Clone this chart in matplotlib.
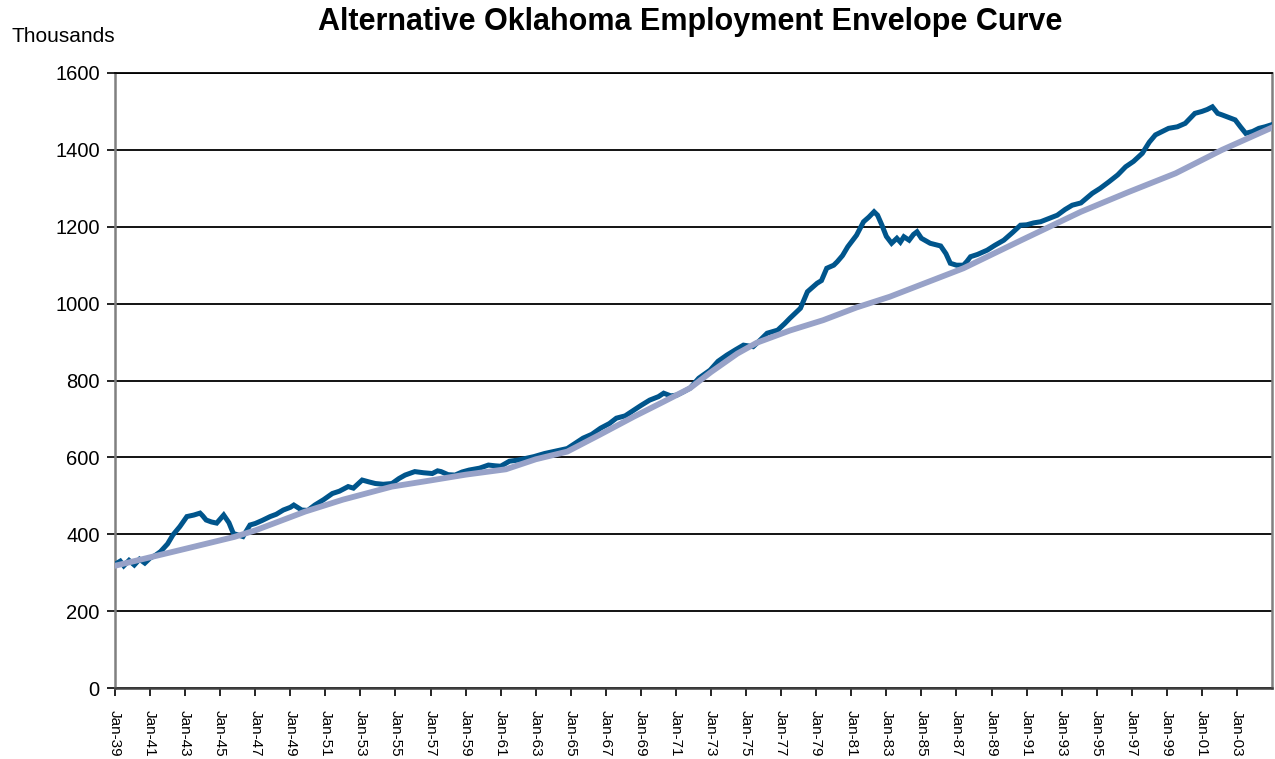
import matplotlib
matplotlib.use("Agg")
import matplotlib.pyplot as plt

# ---- data ----
emp_years = [1939.0, 1939.3, 1939.5, 1939.8, 1940.1, 1940.4, 1940.7, 1941.0, 1941.3, 1941.6,
             1942.0, 1942.3, 1942.7, 1943.1, 1943.5, 1943.85, 1944.0, 1944.2, 1944.5, 1944.8,
             1945.2, 1945.5, 1945.75, 1946.3, 1946.7, 1947.0, 1947.4, 1947.85, 1948.2, 1948.6,
             1949.0, 1949.2, 1949.65, 1950.0, 1950.4, 1950.9, 1951.4, 1951.8, 1952.3, 1952.6,
             1953.1, 1953.5, 1953.85, 1954.3, 1954.8, 1955.2, 1955.55, 1956.1, 1956.6, 1957.1,
             1957.4, 1957.6, 1958.0, 1958.4, 1958.8, 1959.2, 1959.8, 1960.3, 1960.7, 1961.0,
             1961.5, 1962.0, 1962.9, 1963.5, 1964.0, 1964.8, 1965.2, 1965.7, 1966.2, 1966.7,
             1967.2, 1967.6, 1968.1, 1968.6, 1969.0, 1969.5, 1970.0, 1970.3, 1970.7, 1971.05,
             1971.4, 1971.8, 1972.3, 1972.95, 1973.4, 1973.9, 1974.4, 1974.85, 1975.4, 1975.8,
             1976.2, 1976.8, 1977.2, 1977.5, 1978.1, 1978.5, 1979.05, 1979.3, 1979.6, 1980.0,
             1980.2, 1980.5, 1980.8, 1981.3, 1981.7, 1982.0, 1982.3, 1982.5, 1982.75, 1983.0,
             1983.3, 1983.6, 1983.8, 1984.0, 1984.3, 1984.55, 1984.75, 1985.0, 1985.5, 1986.1,
             1986.4, 1986.65, 1987.0, 1987.4, 1987.6, 1987.8, 1988.2, 1988.75, 1989.2, 1989.7,
             1990.2, 1990.65, 1991.0, 1991.4, 1991.8, 1992.3, 1992.75, 1993.2, 1993.6, 1994.1,
             1994.75, 1995.2, 1995.7, 1996.2, 1996.65, 1997.1, 1997.6, 1998.0, 1998.35, 1999.1,
             1999.6, 2000.05, 2000.6, 2001.0, 2001.3, 2001.6, 2001.9, 2002.15, 2002.5, 2002.9,
             2003.2, 2003.5, 2003.9, 2004.25, 2004.6, 2004.95]
emp_values = [322, 330, 318, 332, 320, 335, 325, 338, 345, 355,
              375, 398, 420, 446, 450, 455, 448, 437, 432, 429,
              450, 430, 402, 394, 424, 428, 436, 446, 452, 463,
              470, 476, 463, 462, 476, 490, 506, 512, 524, 520,
              541, 536, 532, 530, 532, 545, 554, 563, 560, 558,
              565, 563, 555, 554, 562, 567, 572, 580, 578, 577,
              590, 593, 602, 610, 615, 623, 635, 650, 660, 676,
              688, 702, 708, 723, 735, 749, 758, 767, 760, 762,
              770, 780, 806, 827, 850, 866, 880, 892, 888, 905,
              923, 931, 948, 962, 988, 1031, 1053, 1060, 1092, 1100,
              1109, 1125, 1148, 1178, 1213, 1225, 1239, 1230, 1204, 1175,
              1157, 1170, 1160, 1174, 1165, 1180, 1187, 1170, 1157, 1150,
              1130, 1105, 1100, 1100, 1110, 1122, 1128, 1139, 1152, 1165,
              1185, 1204, 1205, 1210, 1213, 1222, 1230, 1245, 1256, 1262,
              1287, 1300, 1317, 1335, 1356, 1370, 1391, 1420, 1439, 1456,
              1460, 1469, 1495, 1500, 1505, 1512, 1495, 1491, 1485, 1478,
              1460, 1443, 1448, 1456, 1460, 1465]

env_years = [1939.0, 1941.0, 1943.0, 1945.8, 1947.0, 1949.85, 1952.0, 1954.8, 1957.0, 1959.0,
             1961.3, 1963.0, 1964.8, 1966.7, 1968.6, 1970.3, 1971.8, 1973.0, 1974.5, 1975.6,
             1977.5, 1979.4, 1981.3, 1983.2, 1985.3, 1987.4, 1990.7, 1994.1, 1996.8, 1999.5,
             2002.15, 2004.95]
env_values = [318, 340, 362, 393, 410, 459, 490, 524, 540, 555,
              569, 595, 615, 660, 706, 745, 780, 822, 870, 898,
              930, 957, 990, 1018, 1055, 1092, 1165, 1239, 1290, 1339,
              1400, 1457]

tick_years = list(range(1939, 2004, 2))
tick_labels = ["Jan-%02d" % (y % 100) for y in tick_years]
y_ticks = list(range(0, 1601, 200))

title = "Alternative Oklahoma Employment Envelope Curve"
y_unit = "Thousands"

# ---- figure ----
plt.rcParams['font.family'] = ['Liberation Sans', 'DejaVu Sans']
fig = plt.figure(figsize=(12.75, 7.59), dpi=100)
ax = fig.add_axes([115/1275, 1 - 688/759, (1272 - 115)/1275, (688 - 73)/759])

ax.set_axisbelow(True)
ax.yaxis.grid(True, color='black', linewidth=1.3)
ax.plot(emp_years, emp_values, color='#00558C', linewidth=3.6, solid_joinstyle='miter', zorder=3)
ax.plot(env_years, env_values, color='#98A2C8', linewidth=4.2, zorder=4)

ax.set_xlim(1939.0, 2005.0)
ax.set_ylim(0, 1600)
ax.set_yticks(y_ticks)
ax.set_yticklabels([str(v) for v in y_ticks], fontsize=14.5)
ax.set_xticks(tick_years)
ax.set_xticklabels(tick_labels, rotation=-90, fontsize=11)

ax.tick_params(axis='y', direction='out', length=6, width=1.2, pad=5, color='black')
ax.tick_params(axis='x', direction='out', length=6, width=1.2, pad=10, color='black')

for side in ['left', 'right']:
    ax.spines[side].set_color('#808080')
    ax.spines[side].set_linewidth(1.8)
ax.spines['top'].set_color('black')
ax.spines['top'].set_linewidth(1.3)
ax.spines['bottom'].set_color('#404040')
ax.spines['bottom'].set_linewidth(1.8)

fig.text(690/1275, 1 - 22/759, title, ha='center', va='center', fontsize=22, fontweight='bold')
fig.text(12/1275, 1 - 37/759, y_unit, ha='left', va='center', fontsize=15)

fig.savefig("out.png", dpi=100)
